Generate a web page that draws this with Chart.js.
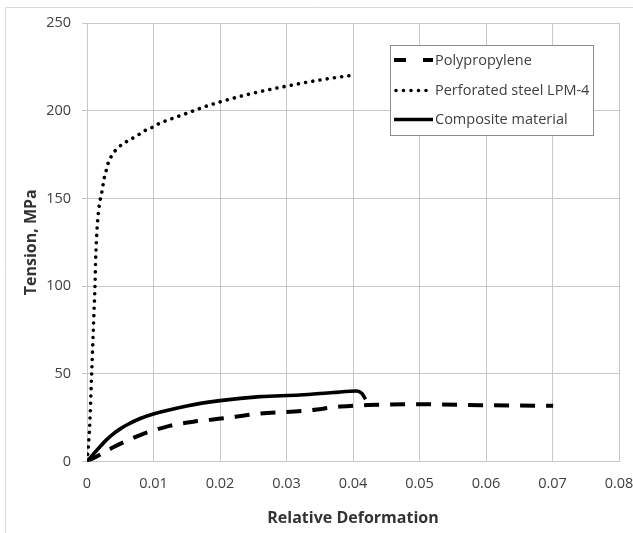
<!DOCTYPE html>
<html>
<head>
<meta charset="utf-8">
<script src="https://cdn.jsdelivr.net/npm/chart.js@4/dist/chart.umd.min.js"></script>
<style>
  html, body { margin: 0; padding: 0; background: #ffffff; }
  #wrap { width: 633px; height: 533px; position: relative; }
</style>
</head>
<body>
<div id="wrap"><canvas id="c" width="633" height="533"></canvas></div>
<script>
const seriesNames = ["Polypropylene", "Perforated steel LPM-4", "Composite material"];

const polyX = [0, 0.00095, 0.0025, 0.00395, 0.006, 0.008, 0.012, 0.016, 0.0205, 0.0255, 0.033, 0.0381, 0.0421, 0.0505, 0.0591, 0.0691, 0.0701];
const polyY = [0, 1.8, 5.0, 8.1, 11.8, 15.1, 19.9, 22.7, 24.6, 27.1, 29.0, 31.3, 32.2, 32.6, 32.1, 31.8, 31.8];

const steelX = [0, 0.0004, 0.0007, 0.0009, 0.00105, 0.0012, 0.0013, 0.0015, 0.0018, 0.0022, 0.0026, 0.0029, 0.0032, 0.0037, 0.0045, 0.0054, 0.0064, 0.0075, 0.0085, 0.0096, 0.0107, 0.0119, 0.013, 0.015, 0.0175, 0.02, 0.025, 0.03, 0.035, 0.0395];
const steelY = [0, 20, 50, 70, 85, 100, 115, 132, 145, 153, 161.7, 166, 170.3, 174.3, 178.3, 181.1, 183.4, 185.7, 188.2, 190.1, 192.4, 194.3, 195.8, 198.5, 202, 205, 210, 214, 217.5, 220];

const compX = [0, 0.0002, 0.00195, 0.003, 0.00395, 0.005, 0.00597, 0.008, 0.00997, 0.015, 0.02, 0.026, 0.032, 0.037, 0.0406, 0.0413, 0.0419];
const compY = [0, 0.9, 8.4, 12.6, 15.8, 18.6, 20.8, 24.5, 27.1, 31.7, 34.7, 37.0, 37.9, 39.3, 40.2, 38.9, 35.5];

const xTicks = [0, 0.01, 0.02, 0.03, 0.04, 0.05, 0.06, 0.07, 0.08];
const yTicks = [0, 50, 100, 150, 200, 250];

const xTitle = "Relative Deformation";
const yTitle = "Tension, MPa";

function pts(xs, ys) { return xs.map((x, i) => ({ x: x, y: ys[i] })); }

const FONT = "'Open Sans', sans-serif";
const GRID = "#c8c8c8";
const TXT = "#404040";

const styles = [
  { dash: [15, 11], width: 4, cap: "butt" },
  { dash: [0.001, 7.3], width: 3.6, cap: "round" },
  { dash: [], width: 3.6, cap: "butt" }
];

const frame = {
  id: "frame",
  beforeDraw(chart) {
    const ctx = chart.ctx;
    ctx.save();
    ctx.fillStyle = "#ffffff";
    ctx.fillRect(0, 0, chart.width, chart.height);
    ctx.strokeStyle = "#d9d9d9";
    ctx.lineWidth = 1;
    ctx.beginPath();
    ctx.moveTo(5.5, chart.height);
    ctx.lineTo(5.5, 7.5);
    ctx.lineTo(chart.width, 7.5);
    ctx.stroke();
    ctx.restore();
  }
};

const legendBox = {
  id: "legendBox",
  afterDraw(chart) {
    const ctx = chart.ctx;
    const x0 = 390.5, y0 = 45.5, w = 203, h = 90;
    ctx.save();
    ctx.fillStyle = "#ffffff";
    ctx.fillRect(x0, y0, w, h);
    ctx.strokeStyle = "#8c8c8c";
    ctx.lineWidth = 1;
    ctx.strokeRect(x0, y0, w, h);
    const rows = [60, 90.5, 119.5];
    ctx.font = "14.5px " + FONT;
    ctx.textBaseline = "middle";
    ctx.fillStyle = TXT;
    seriesNames.forEach((name, i) => {
      const s = styles[i];
      ctx.beginPath();
      ctx.setLineDash(s.dash);
      ctx.lineCap = s.cap;
      ctx.lineWidth = s.width;
      ctx.strokeStyle = "#000000";
      if (i === 0) {
        ctx.setLineDash([]);
        ctx.moveTo(394, rows[i]); ctx.lineTo(406, rows[i]);
        ctx.moveTo(423, rows[i]); ctx.lineTo(433, rows[i]);
      } else if (i === 1) {
        ctx.setLineDash([0.001, 7.5]);
        ctx.moveTo(396, rows[i]); ctx.lineTo(432, rows[i]);
      } else {
        ctx.moveTo(394, rows[i]); ctx.lineTo(433, rows[i]);
      }
      ctx.stroke();
      ctx.setLineDash([]);
      ctx.fillText(name, 435, rows[i] + 0.5);
    });
    ctx.restore();
  }
};

const datasets = [
  { label: seriesNames[0], data: pts(polyX, polyY) },
  { label: seriesNames[1], data: pts(steelX, steelY) },
  { label: seriesNames[2], data: pts(compX, compY) }
].map((d, i) => Object.assign(d, {
  borderColor: "#000000",
  backgroundColor: "#000000",
  borderWidth: styles[i].width,
  borderDash: styles[i].dash,
  borderCapStyle: styles[i].cap,
  borderJoinStyle: "round",
  pointRadius: 0,
  fill: false,
  cubicInterpolationMode: "monotone"
}));

new Chart(document.getElementById("c"), {
  type: "line",
  data: { datasets: datasets },
  plugins: [frame, legendBox],
  options: {
    responsive: false,
    animation: false,
    events: [],
    layout: { padding: { left: 0, right: 0, top: 23, bottom: 0 } },
    plugins: { legend: { display: false }, tooltip: { enabled: false } },
    scales: {
      x: {
        type: "linear",
        min: 0, max: 0.08,
        afterBuildTicks(scale) { scale.ticks = xTicks.map(v => ({ value: v })); },
        afterFit(scale) { scale.height = 71.5; scale.paddingRight = 14; scale.paddingLeft = 0; },
        grid: { color: GRID, lineWidth: 1, drawTicks: false },
        border: { color: GRID },
        ticks: {
          padding: 14,
          color: TXT,
          font: { family: FONT, size: 14.5 },
          callback: v => String(v)
        },
        title: {
          display: true, text: xTitle, color: "#333333",
          font: { family: FONT, size: 16, weight: "bold" },
          padding: { top: 0, bottom: 4.5 }
        }
      },
      y: {
        type: "linear",
        min: 0, max: 250,
        afterBuildTicks(scale) { scale.ticks = yTicks.map(v => ({ value: v })); },
        afterFit(scale) { scale.width = 87; },
        grid: { color: GRID, lineWidth: 1, drawTicks: true, tickLength: 5 },
        border: { color: GRID },
        ticks: {
          padding: 11,
          color: TXT,
          font: { family: FONT, size: 14.5 },
          callback: v => String(v)
        },
        title: {
          display: true, text: yTitle, color: "#333333",
          font: { family: FONT, size: 16, weight: "bold" },
          padding: { top: 22, bottom: 0 }
        }
      }
    }
  }
});
</script>
</body>
</html>
